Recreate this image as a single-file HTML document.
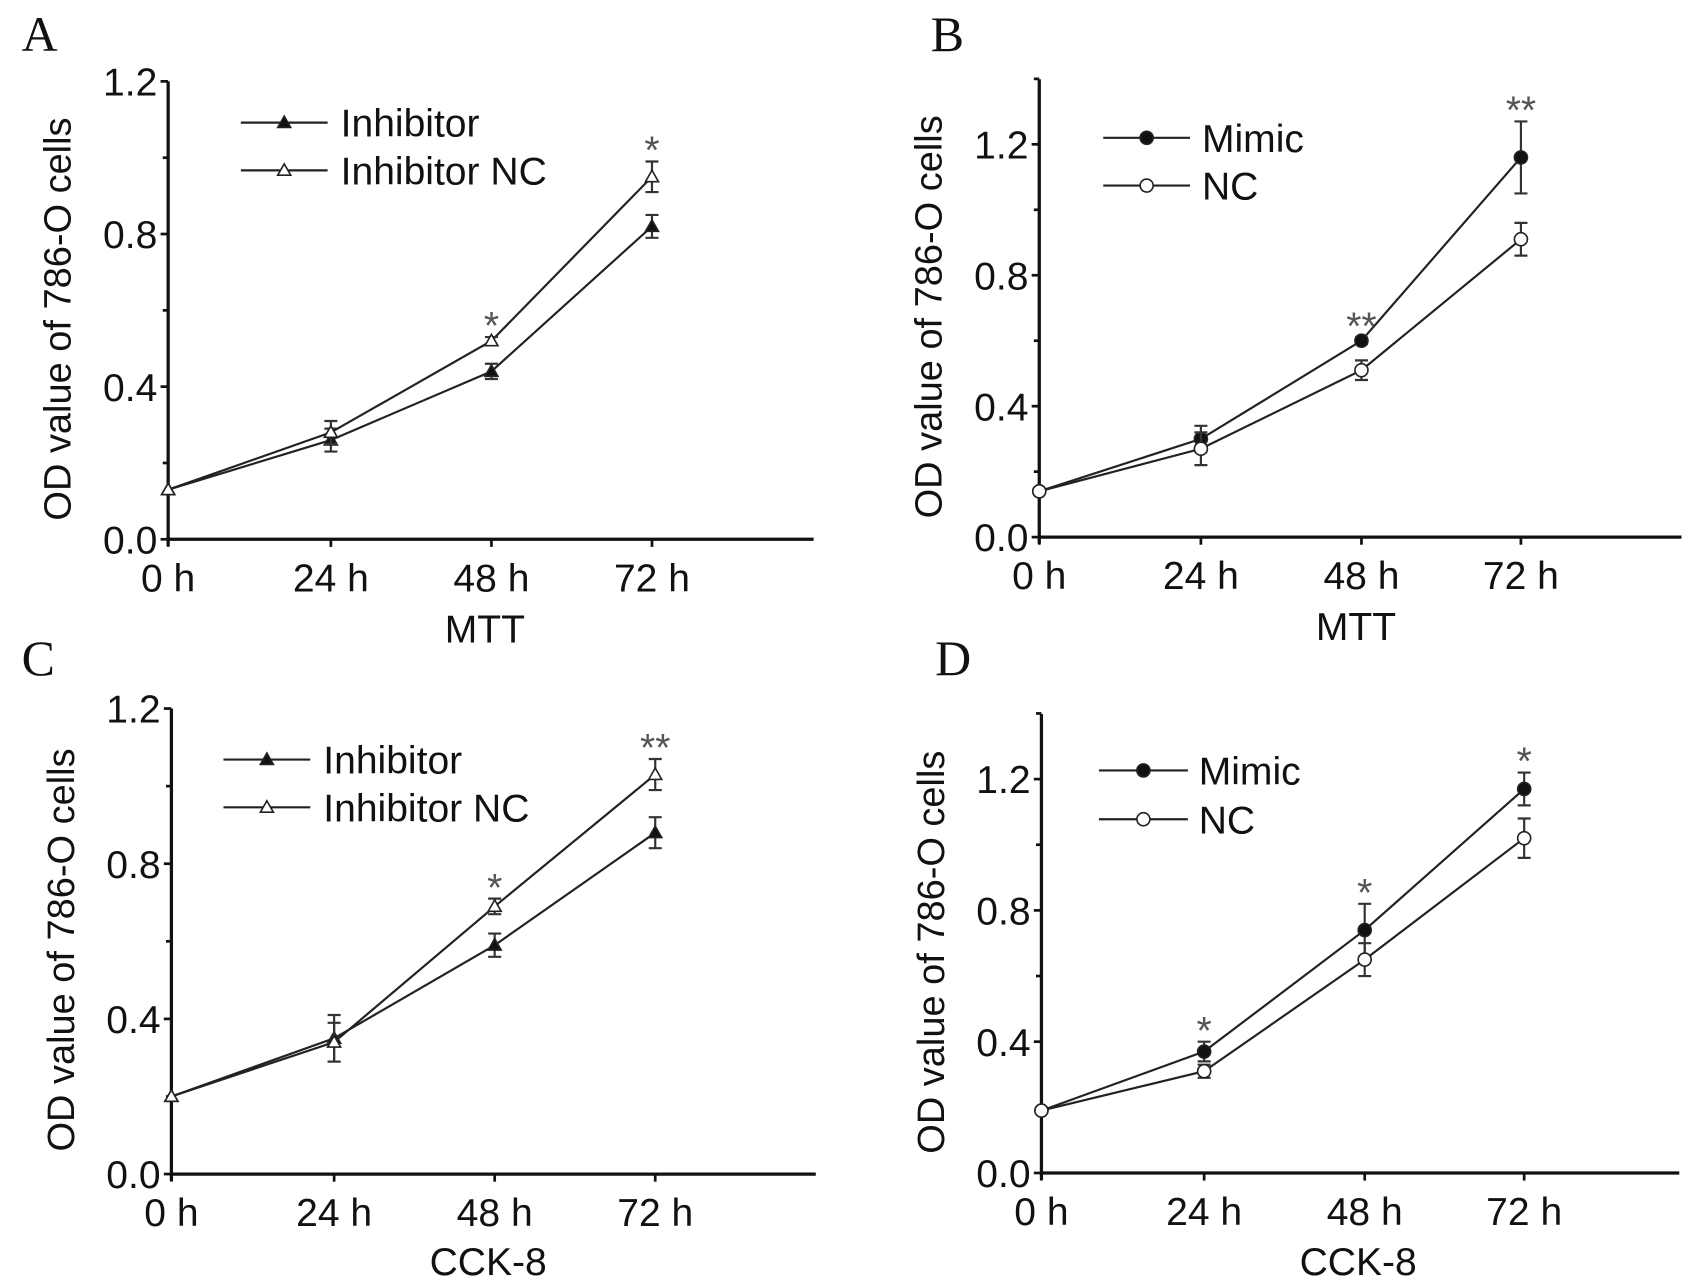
<!DOCTYPE html>
<html><head><meta charset="utf-8"><style>
html,body{margin:0;padding:0;background:#fff;}
svg{display:block;}
text{font-family:"Liberation Sans",Arial,sans-serif;fill:#111;}
</style></head><body>
<svg id="fig" width="1701" height="1288" viewBox="0 0 1568 1187" preserveAspectRatio="none" xmlns="http://www.w3.org/2000/svg"></svg>
<script>
const categories = ["0 h","24 h","48 h","72 h"];
const yTicks = [0.0,0.4,0.8,1.2];
const yTickLabels = ["0.0","0.4","0.8","1.2"];
const aInhibitor = [0.13,0.26,0.44,0.82];
const aInhibitorErr = [0,0.03,0.02,0.03];
const aInhibitorNC = [0.13,0.28,0.52,0.95];
const aInhibitorNCErr = [0,0.03,0.01,0.04];
const aStars = ["","","*","*"];
const bMimic = [0.14,0.30,0.60,1.16];
const bMimicErr = [0,0.04,0.01,0.11];
const bNC = [0.14,0.27,0.51,0.91];
const bNCErr = [0,0.05,0.03,0.05];
const bStars = ["","","**","**"];
const cInhibitor = [0.20,0.35,0.59,0.88];
const cInhibitorErr = [0,0.06,0.03,0.04];
const cInhibitorNC = [0.20,0.34,0.69,1.03];
const cInhibitorNCErr = [0,0.05,0.02,0.04];
const cStars = ["","","*","**"];
const dMimic = [0.19,0.37,0.74,1.17];
const dMimicErr = [0,0.03,0.08,0.05];
const dNC = [0.19,0.31,0.65,1.02];
const dNCErr = [0,0.02,0.05,0.06];
const dStars = ["","*","*","*"];

const NS="http://www.w3.org/2000/svg";
const svg=document.getElementById('fig');
function el(tag,attrs,parent,txt){const e=document.createElementNS(NS,tag);for(const k in attrs)e.setAttribute(k,attrs[k]);if(txt!==undefined)e.textContent=txt;(parent||svg).appendChild(e);return e;}

const panels=[
 {id:'a',letter:'A',lx:20,ly:47,ax:155,y0:497,y12:75,top:75,xt:[155,305,453,601],xend:750,title:'MTT',tx:447,ty:592,
  s:[{name:'Inhibitor',v:aInhibitor,e:aInhibitorErr,m:'tri-fill'},{name:'Inhibitor NC',v:aInhibitorNC,e:aInhibitorNCErr,m:'tri-open'}],stars:aStars,
  leg:{x1:222,x2:302,y:[113,157],tx:314}},
 {id:'b',letter:'B',lx:858,ly:47,ax:958,y0:495,y12:133,top:73,xt:[958,1107,1255,1402],xend:1550,title:'MTT',tx:1250,ty:590,
  s:[{name:'Mimic',v:bMimic,e:bMimicErr,m:'circ-fill'},{name:'NC',v:bNC,e:bNCErr,m:'circ-open'}],stars:bStars,
  leg:{x1:1017,x2:1097,y:[127,171],tx:1108}},
 {id:'c',letter:'C',lx:20,ly:622,ax:158,y0:1082,y12:653,top:653,xt:[158,308,456,604],xend:752,title:'CCK-8',tx:450,ty:1175,
  s:[{name:'Inhibitor',v:cInhibitor,e:cInhibitorErr,m:'tri-fill'},{name:'Inhibitor NC',v:cInhibitorNC,e:cInhibitorNCErr,m:'tri-open'}],stars:cStars,
  leg:{x1:206,x2:286,y:[700,744],tx:298}},
 {id:'d',letter:'D',lx:862,ly:622,ax:960,y0:1081,y12:718,top:658,xt:[960,1110,1258,1405],xend:1548,title:'CCK-8',tx:1252,ty:1175,
  s:[{name:'Mimic',v:dMimic,e:dMimicErr,m:'circ-fill'},{name:'NC',v:dNC,e:dNCErr,m:'circ-open'}],stars:dStars,
  leg:{x1:1013,x2:1095,y:[710,755],tx:1105}}
];

function marker(g,type,x,y){
  if(type.startsWith('tri')){
    const r=6;
    el('polygon',{points:`${x},${y-r} ${x-r},${y+r*0.75} ${x+r},${y+r*0.75}`,fill:type==='tri-fill'?'#111':'#fff',stroke:'#222','stroke-width':1.5},g);
  }else{
    el('circle',{cx:x,cy:y,r:6,fill:type==='circ-fill'?'#111':'#fff',stroke:'#222','stroke-width':1.5},g);
  }
}

panels.forEach(p=>{
  const g=el('g',{});
  
  
  const yS=v=>p.y0-(p.y0-p.y12)*v/1.2;
  const xS=i=>p.xt[i];
  const lt=el('text',{x:p.lx,y:p.ly,'font-size':46,style:'font-family:"Liberation Serif",serif'},g,p.letter);
  
  
  const ya=el('line',{x1:p.ax,y1:p.top,x2:p.ax,y2:p.y0+6,stroke:'#111','stroke-width':3},g);
  
  
  const xa=el('line',{x1:p.ax-1,y1:p.y0,x2:p.xend,y2:p.y0,stroke:'#111','stroke-width':3},g);
  
  
  const step=(p.y0-p.y12)/6;
  for(let k=0;p.y0-k*step>=p.top-1;k++){
    el('line',{x1:p.ax-(k%2===0?7:5),y1:p.y0-k*step,x2:p.ax,y2:p.y0-k*step,stroke:'#111','stroke-width':2.5},g);
  }
  yTicks.forEach((t,i)=>{
    const tl=el('text',{x:p.ax-10,y:yS(t)+13,'font-size':36,'text-anchor':'end'},g,yTickLabels[i]);
    
    
  });
  categories.forEach((c,i)=>{
    el('line',{x1:xS(i),y1:p.y0,x2:xS(i),y2:p.y0+7,stroke:'#111','stroke-width':2.5},g);
    const tl=el('text',{x:xS(i),y:p.y0+48,'font-size':36,'text-anchor':'middle'},g,c);
    
    
  });
  const xt=el('text',{x:p.tx,y:p.ty,'font-size':36,'text-anchor':'middle'},g,p.title);
  
  
  const cy=(p.y0+p.top)/2;
  const yt=el('text',{x:0,y:0,'font-size':35,'text-anchor':'middle',transform:`translate(${p.ax-90},${cy+8}) rotate(-90)`},g,'OD value of 786-O cells');
  
  
  p.s.forEach((s,si)=>{
    const sg=el('g',{},g);
    
    
    const pts=s.v.map((v,i)=>xS(i)+','+yS(v)).join(' ');
    el('polyline',{points:pts,fill:'none',stroke:'#222','stroke-width':2},sg);
    s.v.forEach((v,i)=>{
      if(s.e[i]>0){
        const y1=yS(v+s.e[i]),y2=yS(v-s.e[i]);
        el('path',{d:`M${xS(i)},${y1}V${y2}M${xS(i)-6},${y1}H${xS(i)+6}M${xS(i)-6},${y2}H${xS(i)+6}`,stroke:'#333','stroke-width':2,fill:'none'},sg);
      }
      marker(sg,s.m,xS(i),yS(v));
    });
    const lg=el('g',{},g);
    
    
    const ly=p.leg.y[si];
    el('line',{x1:p.leg.x1,y1:ly,x2:p.leg.x2,y2:ly,stroke:'#222','stroke-width':2},lg);
    marker(lg,s.m,(p.leg.x1+p.leg.x2)/2,ly);
    el('text',{x:p.leg.tx,y:ly+13,'font-size':36},lg,s.name);
  });
  p.stars.forEach((st,i)=>{
    if(!st)return;
    const top=Math.max(...p.s.map(s=>s.v[i]+s.e[i]));
    const t=el('text',{x:xS(i),y:yS(top)+2,'font-size':36,'text-anchor':'middle',fill:'#555',style:'fill:#555'},g,st);
    
    
  });
});
</script>
</body></html>
